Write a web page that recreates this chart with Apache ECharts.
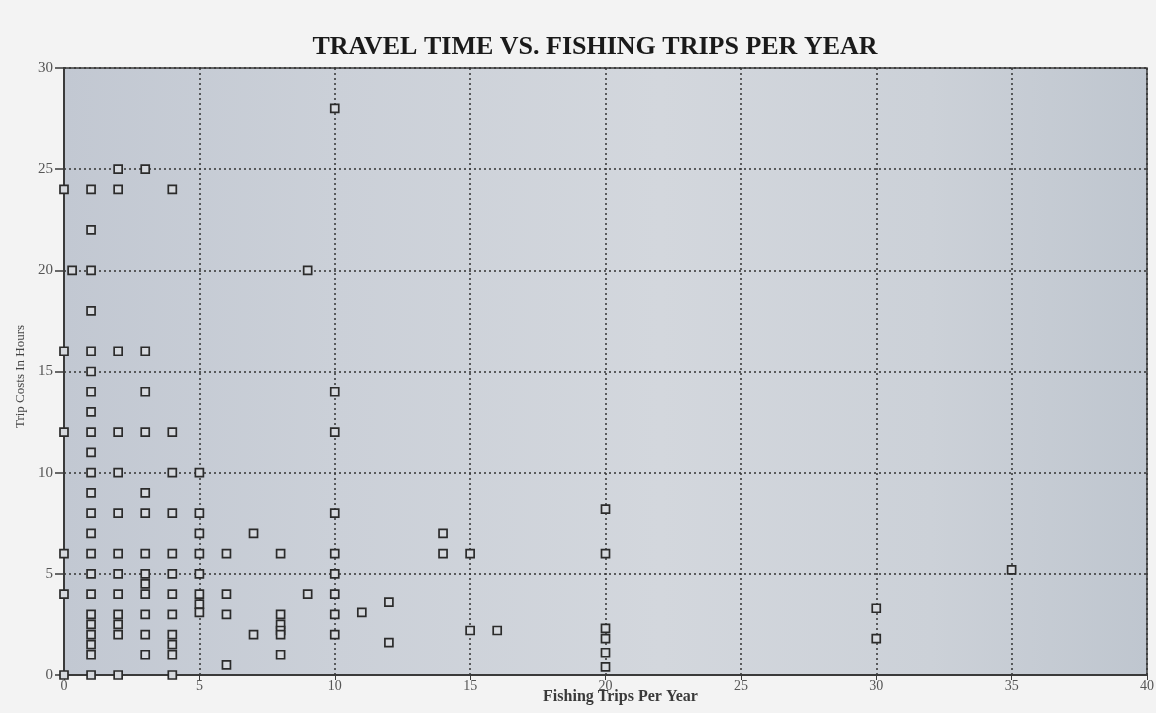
<!DOCTYPE html>
<html>
<head>
<meta charset="utf-8">
<script src="https://cdn.jsdelivr.net/npm/echarts@6/dist/echarts.min.js"></script>
<style>
html,body{margin:0;padding:0;background:#f3f3f3;}
#chart{width:1156px;height:713px;}
</style>
</head>
<body>
<div id="chart"></div>
<script>
const chartTitle = 'TRAVEL TIME VS. FISHING TRIPS PER YEAR';
const xAxisName = 'Fishing Trips Per Year';
const yAxisName = 'Trip Costs In Hours';
const xTicks = [0, 5, 10, 15, 20, 25, 30, 35, 40];
const yTicks = [0, 5, 10, 15, 20, 25, 30];

// points grouped by fishing trips per year (x) -> travel hours (y)
const tripsCols = [0, 0.3, 1, 2, 3, 4, 5, 6, 7, 8, 9, 10, 11, 12, 14, 15, 16, 20, 30, 35];
const hoursCols = [
  [24, 16, 12, 6, 4, 0],
  [20],
  [24, 22, 20, 18, 16, 15, 14, 13, 12, 11, 10, 9, 8, 7, 6, 5, 4, 3, 2.5, 2, 1.5, 1, 0],
  [25, 24, 16, 12, 10, 8, 6, 5, 4, 3, 2.5, 2, 0],
  [25, 16, 14, 12, 9, 8, 6, 5, 4.5, 4, 3, 2, 1],
  [24, 12, 10, 8, 6, 5, 4, 3, 2, 1.5, 1, 0],
  [10, 8, 7, 6, 5, 4, 3.5, 3.1],
  [6, 4, 3, 0.5],
  [7, 2],
  [6, 3, 2.5, 2.2, 2, 1],
  [20, 4],
  [28, 14, 12, 8, 6, 5, 4, 3, 2],
  [3.1],
  [3.6, 1.6],
  [7, 6],
  [6, 2.2],
  [2.2],
  [8.2, 6, 2.3, 1.8, 1.1, 0.4],
  [3.3, 1.8],
  [5.2]
];

const points = [];
tripsCols.forEach((x, i) => hoursCols[i].forEach(y => points.push([x, y])));

const serif = '"Liberation Serif", "DejaVu Serif", serif';
const chart = echarts.init(document.getElementById('chart'));
chart.setOption({
  backgroundColor: '#f3f3f3',
  animation: false,
  title: {
    text: chartTitle,
    left: 590, textAlign: 'center', top: 29,
    textStyle: {fontFamily: serif, fontWeight: 'bold', fontSize: 26, color: '#1a1a1a'}
  },
  grid: {
    left: 64, right: 9, top: 68, bottom: 38,
    outerBoundsMode: 'none',
    containLabel: false,
    show: true,
    backgroundColor: new echarts.graphic.LinearGradient(0, 0, 1, 0, [
      {offset: 0, color: '#c2c8d2'},
      {offset: 0.25, color: '#cbd0d8'},
      {offset: 0.55, color: '#d3d7dd'},
      {offset: 0.8, color: '#ccd1d8'},
      {offset: 1, color: '#bfc6cf'}
    ]),
    borderColor: '#3a3a3a', borderWidth: 1.5
  },
  xAxis: {
    type: 'value', min: 0, max: 40, interval: 5,
    name: xAxisName, nameLocation: 'middle', nameGap: 14,
    nameMoveOverlap: false,
    nameTextStyle: {fontFamily: serif, fontWeight: 'bold', fontSize: 16, color: '#3a3a3a', padding: [0, 0, 0, 30]},
    axisLine: {lineStyle: {color: '#3a3a3a', width: 2}},
    axisTick: {show: true, length: 5, lineStyle: {color: '#3a3a3a'}},
    axisLabel: {fontFamily: serif, fontSize: 14, color: '#555', margin: 4,
      formatter: v => xTicks.includes(v) ? String(v) : ''},
    splitLine: {show: true, lineStyle: {color: '#333', type: [2, 3], width: 1.5}}
  },
  yAxis: {
    type: 'value', min: 0, max: 30, interval: 5,
    name: yAxisName, nameLocation: 'middle', nameGap: 37, nameRotate: 90,
    nameMoveOverlap: false,
    nameTextStyle: {fontFamily: serif, fontSize: 13, color: '#444', padding: [0, 0, 0, -10]},
    axisLine: {show: true, lineStyle: {color: '#3a3a3a', width: 2}},
    axisTick: {show: true, length: 9, lineStyle: {color: '#3a3a3a', width: 1.5}},
    axisLabel: {fontFamily: serif, fontSize: 15, color: '#555', margin: 11,
      formatter: v => yTicks.includes(v) ? String(v) : ''},
    splitLine: {show: true, lineStyle: {color: '#333', type: [2, 3], width: 1.5}}
  },
  series: [{
    type: 'scatter',
    data: points,
    symbol: 'rect',
    symbolSize: 8,
    itemStyle: {color: '#d6d9de', borderColor: '#2b2b2b', borderWidth: 1.7, opacity: 1}
  }]
});
</script>
</body>
</html>
